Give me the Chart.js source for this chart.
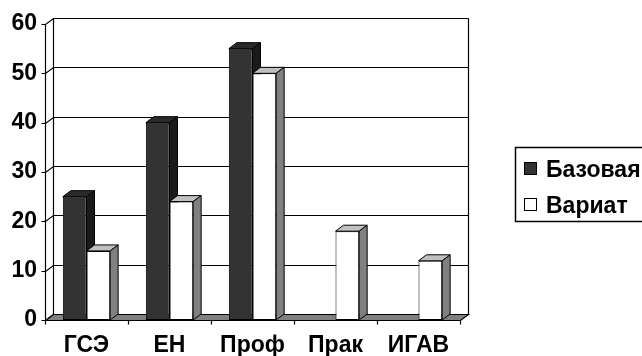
<!DOCTYPE html>
<html>
<head>
<meta charset="utf-8">
<script src="https://cdn.jsdelivr.net/npm/chart.js@4"></script>
<style>
    html, body { margin: 0; padding: 0; background: #fff; }
    #wrap { width: 642px; height: 356px; }
</style>
</head>
<body>
<div id="wrap"><canvas id="char_plan"></canvas></div>
<script>
var categories = ["ГСЭ", "ЕН", "Проф", "Прак", "ИГАВ"];
var baseValues = [25, 40, 55, 0, 0];
var variatValues = [14, 24, 50, 18, 12];
var yTicks = [0, 10, 20, 30, 40, 50, 60];
var seriesNames = ["Базовая", "Вариат"];

var FONT = "'Liberation Sans', Arial, sans-serif";
var DX = 8, DY = 6;
var faces = [
    { front: "#333333", top: "#2a2a2a", side: "#1a1a1a" },
    { front: "#ffffff", top: "#c0c0c0", side: "#808080" }
];

function poly(ctx, pts, fill) {
    ctx.beginPath();
    ctx.moveTo(pts[0][0], pts[0][1]);
    for (var i = 1; i < pts.length; i++) ctx.lineTo(pts[i][0], pts[i][1]);
    ctx.closePath();
    ctx.fillStyle = fill;
    ctx.fill();
    ctx.stroke();
}

var box3d = {
    id: "box3d",
    beforeDatasetsDraw: function (chart) {
        var ctx = chart.ctx, a = chart.chartArea;
        var ys = chart.scales.y, xs = chart.scales.x;
        var L = a.left + 0.5, R = a.right + 0.5, B = Math.round(a.bottom) + 0.5;
        ctx.save();
        ctx.lineWidth = 1.2;
        ctx.strokeStyle = "#000";

        // back wall gridlines + left ticks
        yTicks.forEach(function (v) {
            var py = Math.round(ys.getPixelForValue(v)) + 0.5;
            ctx.beginPath();
            ctx.moveTo(L - 4, py);
            ctx.lineTo(L, py);
            ctx.lineTo(L + DX, py - DY);
            if (v > 0) ctx.lineTo(R + DX, py - DY);
            ctx.stroke();
        });
        var top = Math.round(ys.getPixelForValue(yTicks[yTicks.length - 1])) + 0.5;
        ctx.beginPath();
        ctx.moveTo(L, top); ctx.lineTo(L, B);
        ctx.moveTo(L + DX, top - DY); ctx.lineTo(L + DX, B - DY);
        ctx.moveTo(R + DX, top - DY); ctx.lineTo(R + DX, B - DY);
        ctx.stroke();

        // floor
        poly(ctx, [[L, B], [R, B], [R + DX, B - DY], [L + DX, B - DY]], "#808080");

        // category ticks under the floor
        for (var i = 0; i <= categories.length; i++) {
            var px = Math.round(xs.getPixelForValue(i - 0.5)) + 0.5;
            ctx.beginPath();
            ctx.moveTo(px, B);
            ctx.lineTo(px, B + 4);
            ctx.stroke();
        }

        // top and side faces of the bars
        ctx.lineWidth = 1;
        for (var c = 0; c < categories.length; c++) {
            for (var d = 0; d < 2; d++) {
                var el = chart.getDatasetMeta(d).data[c];
                var val = chart.data.datasets[d].data[c];
                if (!val) continue;
                var l = el.x - el.width / 2, r = el.x + el.width / 2;
                var t = el.y, b = el.base;
                poly(ctx, [[l, t], [l + DX, t - DY], [r + DX, t - DY], [r, t]], faces[d].top);
                poly(ctx, [[r, t], [r + DX, t - DY], [r + DX, b - DY], [r, b]], faces[d].side);
            }
        }
        ctx.restore();
    },
    afterDraw: function (chart) {
        var ctx = chart.ctx;
        ctx.save();
        ctx.lineWidth = 1.5;
        ctx.strokeStyle = "#000";
        ctx.strokeRect(515.5, 147.5, 160, 74);
        ctx.lineWidth = 1;
        ctx.font = "bold 23px " + FONT;
        ctx.textBaseline = "alphabetic";
        for (var d = 0; d < seriesNames.length; d++) {
            var sy = 162 + d * 36;
            ctx.fillStyle = faces[d].front;
            ctx.fillRect(524.5, sy + 0.5, 12, 12);
            ctx.strokeRect(524.5, sy + 0.5, 12, 12);
            ctx.fillStyle = "#000";
            ctx.fillText(seriesNames[d], 546, sy + 15);
        }
        ctx.restore();
    }
};

var chartEl = document.getElementById("char_plan");
var myChart = new Chart(chartEl.getContext("2d"), {
    type: "bar",
    data: {
        labels: categories,
        datasets: [
            {
                label: seriesNames[0],
                data: baseValues,
                backgroundColor: faces[0].front,
                borderColor: "#000",
                borderWidth: function (c) { return c.raw ? 1 : 0; },
                borderSkipped: false,
                categoryPercentage: 0.57,
                barPercentage: 1
            },
            {
                label: seriesNames[1],
                data: variatValues,
                backgroundColor: faces[1].front,
                borderColor: "#000",
                borderWidth: function (c) { return c.raw ? 1 : 0; },
                borderSkipped: false,
                categoryPercentage: 0.57,
                barPercentage: 1
            }
        ]
    },
    plugins: [box3d],
    options: {
        responsive: true,
        maintainAspectRatio: false,
        animation: false,
        layout: { padding: { top: 24, right: 182, left: 0, bottom: 0 } },
        plugins: {
            legend: { display: false },
            tooltip: { enabled: false }
        },
        scales: {
            y: {
                min: 0,
                max: 60,
                afterFit: function (s) { s.width = 45; },
                afterBuildTicks: function (s) {
                    s.ticks = yTicks.map(function (v) { return { value: v }; });
                },
                grid: { display: false, drawTicks: false },
                border: { display: false },
                ticks: {
                    padding: 8,
                    color: "#000",
                    font: { family: FONT, size: 23, weight: "bold" }
                }
            },
            x: {
                afterFit: function (s) { s.height = 36; },
                grid: { display: false, drawTicks: false },
                border: { display: false },
                ticks: {
                    padding: 12,
                    color: "#000",
                    maxRotation: 0,
                    autoSkip: false,
                    font: { family: FONT, size: 23, weight: "bold" }
                }
            }
        }
    }
});
</script>
</body>
</html>
